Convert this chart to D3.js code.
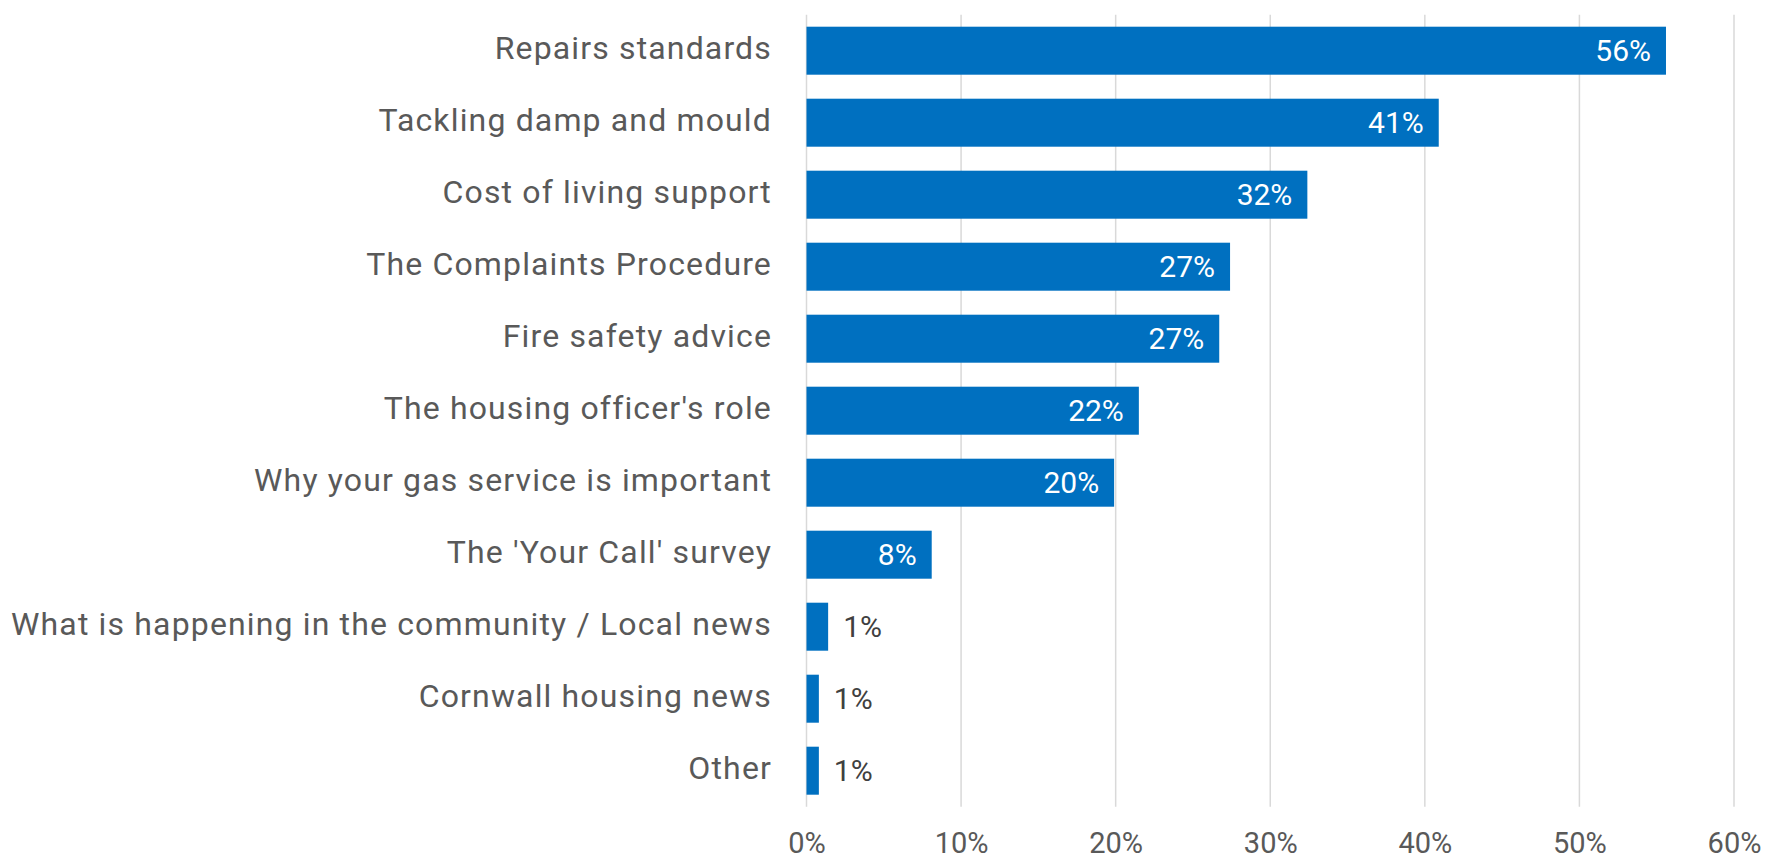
<!DOCTYPE html>
<html>
<head>
<meta charset="utf-8">
<script src="https://cdn.jsdelivr.net/npm/d3@7"></script>
<style>
  html, body { margin: 0; padding: 0; background: #ffffff; }
  svg { display: block; }
  text { font-family: Roboto, "Liberation Sans", sans-serif; }
</style>
</head>
<body>
<svg id="chart" width="1767" height="861"></svg>
<script>
// Topics residents would like to hear more about (share of respondents)
const categories = [
  "Repairs standards",
  "Tackling damp and mould",
  "Cost of living support",
  "The Complaints Procedure",
  "Fire safety advice",
  "The housing officer's role",
  "Why your gas service is important",
  "The 'Your Call' survey",
  "What is happening in the community / Local news",
  "Cornwall housing news",
  "Other"
];
const values = [0.556, 0.409, 0.324, 0.274, 0.267, 0.215, 0.199, 0.081, 0.014, 0.008, 0.008];
const xTicks = [0, 0.1, 0.2, 0.3, 0.4, 0.5, 0.6];

const data = categories.map((c, i) => ({ category: c, value: values[i] }));

const svg = d3.select("#chart");
const margin = { left: 806.5, right: 33, top: 14.7, bottom: 54.3 };
const width = 1767, height = 861;

const x = d3.scaleLinear()
  .domain([0, 0.6])
  .range([margin.left, width - margin.right]);

const y = d3.scaleBand()
  .domain(categories)
  .range([margin.top, height - margin.bottom])
  .paddingInner(1 / 3)
  .paddingOuter(1 / 6);

const pct = d3.format(".0%");
const fontSize = 30;
const textGrey = "#595959";

// vertical gridlines
svg.append("g")
  .selectAll("line")
  .data(xTicks)
  .join("line")
  .attr("x1", d => x(d))
  .attr("x2", d => x(d))
  .attr("y1", margin.top)
  .attr("y2", height - margin.bottom)
  .attr("stroke", "#d9d9d9")
  .attr("stroke-width", 1.5);

// x axis tick labels
const xAxis = d3.axisBottom(x).tickValues(xTicks).tickFormat(pct).tickSize(0).tickPadding(0);
const gx = svg.append("g")
  .attr("transform", `translate(0, ${height - margin.bottom})`)
  .call(xAxis);
gx.select(".domain").remove();
gx.selectAll("text")
  .attr("y", 46.5)
  .attr("dy", null)
  .attr("fill", textGrey)
  .style("font-size", "29px")
  .style("font-family", "Roboto, 'Liberation Sans', sans-serif");

// bars
svg.append("g")
  .selectAll("rect")
  .data(data)
  .join("rect")
  .attr("x", x(0))
  .attr("y", d => y(d.category))
  .attr("width", d => x(d.value) - x(0))
  .attr("height", y.bandwidth())
  .attr("fill", "#0070c0");

// category labels
const yAxis = d3.axisLeft(y).tickSize(0).tickPadding(0);
const gy = svg.append("g")
  .attr("transform", `translate(772, 0)`)
  .call(yAxis);
gy.select(".domain").remove();
gy.selectAll("text")
  .attr("x", 0)
  .attr("dy", "0.25em")
  .attr("fill", textGrey)
  .style("font-size", "32px")
  .style("letter-spacing", "1.15px")
  .style("font-family", "Roboto, 'Liberation Sans', sans-serif");

// value labels: inside the bar end when they fit, otherwise just past it
const pad = 15;
const labels = svg.append("g")
  .selectAll("text")
  .data(data)
  .join("text")
  .attr("y", d => y(d.category) + y.bandwidth() / 2)
  .attr("dy", "0.355em")
  .style("font-size", fontSize + "px")
  .text(d => pct(d.value));

labels.each(function (d) {
  const w = this.getComputedTextLength();
  const barW = x(d.value) - x(0);
  const inside = barW > w + 2 * pad;
  d3.select(this)
    .attr("x", inside ? x(d.value) - pad : x(d.value) + pad)
    .attr("text-anchor", inside ? "end" : "start")
    .attr("fill", inside ? "#ffffff" : "#404040");
});
</script>
</body>
</html>
